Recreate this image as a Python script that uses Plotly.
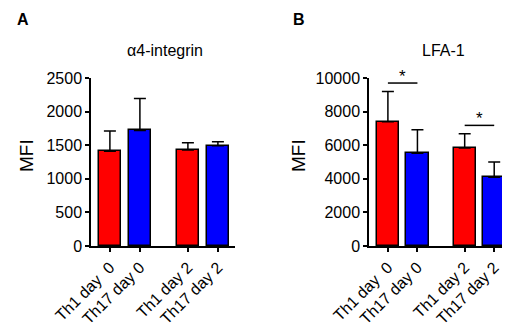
import plotly.graph_objects as go

categories = ["Th1 day  0", "Th17 day 0", "Th1 day 2", "Th17 day 2"]
xpos = [0, 1, 2.6, 3.6]
colors = ["#FF0000", "#0000FF", "#FF0000", "#0000FF"]

a4_mean = [1410, 1720, 1430, 1490]
a4_err = [300, 475, 105, 60]

lfa_mean = [7400, 5520, 5830, 4090]
lfa_err = [1790, 1400, 850, 910]

# significance brackets: (x start idx, x end idx, y)
sig_pairs = [(0, 1, 9700), (2, 3, 7180)]

FONT = "Arial, Liberation Sans, sans-serif"
W, H = 510, 326

def fx(x):
    return x / W

def fy(y):
    return 1 - y / H

fig = go.Figure()

def add_bars(xaxis, yaxis, means, errs):
    fig.add_trace(go.Bar(
        x=xpos, y=means, xaxis=xaxis, yaxis=yaxis, width=0.75,
        marker=dict(color=colors, line=dict(color="black", width=1.5)),
        error_y=dict(type="data", array=errs, arrayminus=[0]*len(errs),
                     symmetric=False, color="black", thickness=1.5, width=6),
        showlegend=False,
    ))

add_bars("x", "y", a4_mean, a4_err)
add_bars("x2", "y2", lfa_mean, lfa_err)

axis_common = dict(showline=True, linecolor="black", linewidth=1.5,
                   ticks="outside", tickcolor="black", tickwidth=1.5, ticklen=4,
                   showgrid=False, zeroline=False, automargin=False)
ytick = dict(family=FONT, size=16, color="black")
xtick = dict(family=FONT, size=16, color="black")

fig.update_layout(
    width=W, height=H, margin=dict(l=0, r=0, t=0, b=0),
    plot_bgcolor="white", paper_bgcolor="white", bargap=0,
    xaxis=dict(domain=[fx(83), fx(227)], range=[-0.63, 4.17],
               tickvals=xpos, ticktext=categories, tickangle=-45, tickfont=xtick,
               **axis_common),
    yaxis=dict(domain=[fy(238), fy(70)], range=[0, 2500], dtick=500,
               tickformat="d", tickfont=ytick, **axis_common),
    xaxis2=dict(domain=[fx(361), fx(506)], range=[-0.64, 4.27], anchor="y2",
                tickvals=xpos, ticktext=categories, tickangle=-45, tickfont=xtick,
                **axis_common),
    yaxis2=dict(domain=[fy(238), fy(70)], range=[0, 10000], dtick=2000, anchor="x2",
                tickformat="d", tickfont=ytick, **axis_common),
)

def pa(text, x, y, size, angle=0, bold=False):
    fig.add_annotation(text=f"<b>{text}</b>" if bold else text,
                       x=fx(x), y=fy(y), xref="paper", yref="paper",
                       showarrow=False, textangle=angle,
                       xanchor="center", yanchor="middle",
                       font=dict(family=FONT, size=size, color="black"))

pa("α4-integrin", 157, 42, 16)
pa("LFA-1", 435, 42, 16)
pa("A", 15, 11, 16, bold=True)
pa("B", 291, 11, 16, bold=True)
pa("MFI", 18, 148, 19, angle=-90)
pa("MFI", 290, 148, 19, angle=-90)

for i, j, yv in sig_pairs:
    fig.add_shape(type="line", xref="x2", yref="y2", x0=xpos[i], x1=xpos[j], y0=yv, y1=yv,
                  line=dict(color="black", width=1.5))
    fig.add_annotation(text="*", xref="x2", yref="y2", x=(xpos[i]+xpos[j])/2, y=yv,
                       yanchor="bottom", showarrow=False, yshift=-5,
                       font=dict(family=FONT, size=17, color="black"))

fig.write_html("out.html")
